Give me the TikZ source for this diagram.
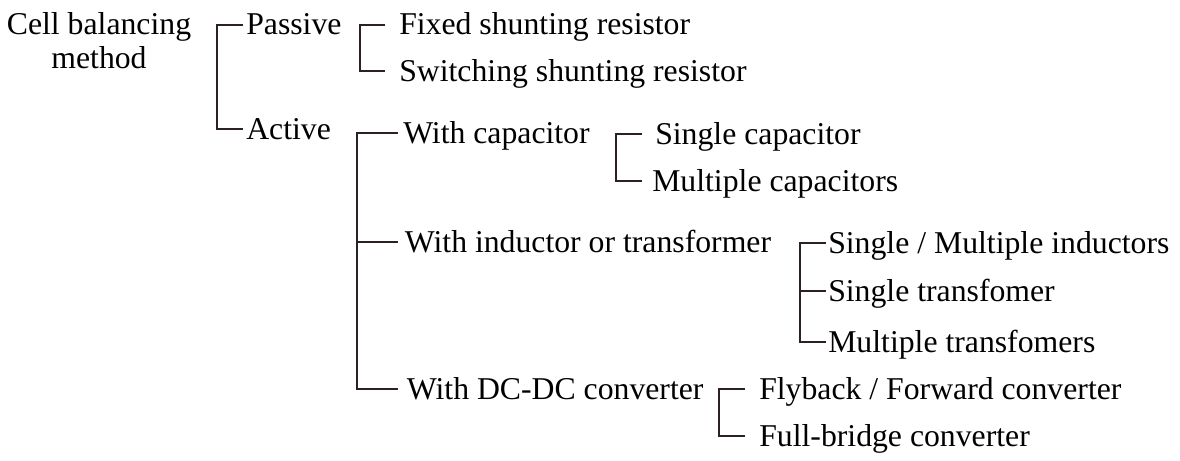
\documentclass[tikz,border=0pt]{standalone}
\usepackage{fontspec}
\setmainfont{Liberation Serif}
\definecolor{bracketbrown}{RGB}{45,32,32}

\begin{document}
\begin{tikzpicture}[
  x=0.75pt, y=-0.75pt,
  font=\fontsize{23.8}{25.5}\selectfont,
  item/.style={anchor=west, inner ysep=0pt, inner xsep=#1, text height=15pt, text depth=0pt},
  item/.default=1.5pt,
  link/.style={draw=bracketbrown, line width=2pt}
]
  \useasboundingbox (0,0) rectangle (1180,460);

  \node[align=center, inner sep=0pt] (root) at (99,41) {Cell balancing\\method};

  \node[item=2.25pt] (pas) at (243,25) {Passive};
  \node[item=2.25pt] (act) at (243,129) {Active};

  \node[item=10.5pt] (fix) at (385,25) {Fixed shunting resistor};
  \node[item=10.5pt] (swi) at (385,71) {Switching shunting resistor};

  \node[item=3.75pt] (wcap) at (398,133) {With capacitor};
  \node[item=5pt] (wind) at (398,242) {With inductor or transformer};
  \node[item=6.5pt] (wdc) at (398,389) {With DC-DC converter};

  \node[item=9.75pt] (scap) at (642,134) {Single capacitor};
  \node[item=7.5pt] (mcap) at (642,181) {Multiple capacitors};

  \node[item] (ind1) at (826,243) {Single / Multiple inductors};
  \node[item] (ind2) at (826,291) {Single transfomer};
  \node[item] (ind3) at (826,342) {Multiple transfomers};

  \node[item=10.5pt] (fly) at (745,389) {Flyback / Forward converter};
  \node[item=10.5pt] (full) at (745,436) {Full-bridge converter};

  % bracket spines
  \coordinate (s1) at (217,77);
  \coordinate (s2) at (360,48);
  \coordinate (s3) at (357,260);
  \coordinate (s4) at (616,157);
  \coordinate (s5) at (800,291);
  \coordinate (s6) at (719,412);

  \draw[link] (pas.west) -| (s1) |- (act.west);
  \draw[link] (fix.west) -| (s2) |- (swi.west);
  \draw[link] (wcap.west) -| (s3) |- (wdc.west);
  \draw[link] (s3 |- wind.west) -- (wind.west);
  \draw[link] (scap.west) -| (s4) |- (mcap.west);
  \draw[link] (ind1.west) -| (s5) |- (ind3.west);
  \draw[link] (s5 |- ind2.west) -- (ind2.west);
  \draw[link] (fly.west) -| (s6) |- (full.west);
\end{tikzpicture}
\end{document}
